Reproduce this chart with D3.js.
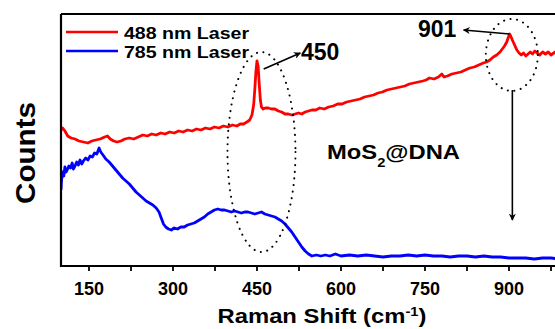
<!DOCTYPE html>
<html>
<head>
<meta charset="utf-8">
<script src="https://cdn.jsdelivr.net/npm/d3@7"></script>
<style>
  body { margin: 0; background: #fff; }
  svg { display: block; font-family: "Liberation Sans", Arial, sans-serif; font-weight: bold; }
</style>
</head>
<body>
<script>
// Raman spectra of MoS2@DNA (counts in arbitrary units)
var redShift = [100,103,107,112,118,125,132,140,148,155,162,170,178,183,188,194,200,207,214,222,230,238,246,254,262,270,278,286,294,302,310,318,326,334,342,350,358,366,374,382,390,398,406,414,420,426,432,437,441,444,446,448,450,452,454,456,458,461,465,470,476,482,488,494,500,506,512,518,524,530,536,542,548,555,562,570,578,586,594,602,610,618,626,634,642,650,658,666,674,682,690,698,706,714,722,730,738,746,752,758,766,774,780,784,790,798,806,814,822,830,838,846,854,860,866,872,878,884,888,892,896,899,901,903,906,910,914,918,922,926,930,934,938,942,946,950,955,960,965,970,975,980,985,990,1000];
var redCounts = [136,138,135,130,128,127,125,124,123,125,126,127,129,130,127,125,124,125,127,128,127,129,131,130,132,131,133,132,134,133,135,134,136,135,137,136,138,137,139,138,140,139,141,140,142,142,144,146,151,161,176,194,205,200,182,166,159,157,158,158,157,157,155,154,152,152,151,152,153,152,154,155,156,156,158,157,159,160,162,162,164,165,166,167,169,170,171,173,174,176,177,178,179,180,182,183,184,185,186,188,187,189,192,189,190,192,193,194,196,198,199,201,203,204,206,209,211,214,217,220,224,229,232,230,226,221,216,213,211,213,210,212,214,212,215,213,211,214,212,214,211,213,215,214,215];

var blueShift = [100,101,103,105,107,109,111,114,117,120,122,125,128,131,134,137,140,144,148,152,156,160,164,168,171,175,180,186,192,198,204,210,216,222,228,234,240,246,252,258,264,270,275,279,283,287,292,297,302,308,314,320,326,332,338,344,350,356,362,368,374,380,386,392,398,404,410,416,422,428,434,440,446,452,458,464,470,476,482,488,494,500,506,512,518,524,530,536,542,548,556,564,572,580,590,600,615,630,645,660,675,690,705,720,735,750,765,780,795,810,825,840,855,870,885,900,915,930,945,960,975,990,1000];
var blueCounts = [76,86,94,90,99,94,96,100,98,103,97,100,104,101,106,102,105,108,106,110,109,113,112,118,114,111,107,104,100,96,92,88,85,82,78,74,71,68,65,63,61,58,54,48,42,39,37,36,38,37,39,39,41,42,43,45,47,49,52,54,56,57,56,56,55,54,55,54,53,54,54,53,52,53,54,52,51,50,49,47,45,42,38,34,29,24,19,15,12,10,11,10,11,10,12,10,11,10,11,10,9,10,10,11,10,11,10,10,9,10,10,9,10,9,9,8,8,8,7,8,8,7,8];

var seriesNames = ["488 nm Laser", "785 nm Laser"];
var seriesColors = ["#ff0000", "#0000ff"];
var xTicks = [150,300,450,600,750,900];
var xMinorTicks = [225,375,525,675,825,975];

function ramanChart(){
  var width = 555, height = 329;
  var mLeft = 61, mTop = 14, mBottom = 266;

  var x = d3.scaleLinear().domain([100,1000]).range([mLeft, mLeft + 504]);
  var y = d3.scaleLinear().domain([0,252]).range([mBottom, mTop]);

  var svg = d3.select("body").append("svg")
      .attr("width", width)
      .attr("height", height);

  var defs = svg.append("defs");
  defs.append("clipPath").attr("id","plotclip")
    .append("rect").attr("x", mLeft).attr("y", mTop).attr("width", 504).attr("height", mBottom-mTop);

  defs.append("marker")
      .attr("id","head")
      .attr("viewBox","0 0 10 10")
      .attr("refX",9).attr("refY",5)
      .attr("markerWidth",10).attr("markerHeight",7)
      .attr("markerUnits","userSpaceOnUse")
      .attr("orient","auto")
    .append("path")
      .attr("d","M0,0 L10,5 L0,10 L3,5 Z")
      .attr("fill","#000");

  var line = d3.line()
    .x(function(d){ return x(d[0]); })
    .y(function(d){ return y(d[1]); });

  var series = [
    d3.zip(redShift, redCounts),
    d3.zip(blueShift, blueCounts)
  ];

  svg.append("g").attr("clip-path","url(#plotclip)")
    .selectAll(".spec")
      .data(series)
    .enter().append("path")
      .attr("class","spec")
      .attr("d", line)
      .style("fill","none")
      .style("stroke", function(d,i){ return seriesColors[i]; })
      .style("stroke-width", 2.8)
      .style("stroke-linejoin","round");

  // frame: top, left, bottom (right side is cut off)
  svg.append("path")
    .attr("d","M"+mLeft+","+mTop+"H"+width+"M"+mLeft+","+mTop+"V"+mBottom+"H"+width)
    .style("fill","none").style("stroke","#000").style("stroke-width",2.2);

  var xAxis = svg.append("g").attr("transform","translate(0,"+mBottom+")");
  xAxis.selectAll(".tick")
      .data(xTicks.concat(xMinorTicks))
    .enter().append("line")
      .attr("x1", function(d){ return x(d); })
      .attr("x2", function(d){ return x(d); })
      .attr("y1", 0).attr("y2", 5)
      .style("stroke","#000").style("stroke-width",1.8);
  xAxis.selectAll(".lbl")
      .data(xTicks)
    .enter().append("text")
      .attr("x", function(d){ return x(d); })
      .attr("y", 29)
      .attr("text-anchor","middle")
      .style("font-size","18px")
      .text(function(d){ return d; });

  // axis titles
  var xt = svg.append("text")
    .attr("x", 322).attr("y", 323)
    .attr("text-anchor","middle")
    .attr("textLength", 209).attr("lengthAdjust","spacingAndGlyphs")
    .style("font-size","21px");
  xt.append("tspan").text("Raman Shift (cm");
  xt.append("tspan").attr("baseline-shift","super").style("font-size","13px").text("-1");
  xt.append("tspan").text(")");

  svg.append("text")
    .attr("transform","translate(35,153) rotate(-90)")
    .attr("text-anchor","middle")
    .attr("textLength", 102).attr("lengthAdjust","spacingAndGlyphs")
    .style("font-size","28px")
    .text("Counts");

  // legend
  var leg = svg.append("g");
  seriesNames.forEach(function(name,i){
    var ly = 32 + i*19;
    leg.append("line")
      .attr("x1",66).attr("x2",118).attr("y1",ly).attr("y2",ly)
      .style("stroke",seriesColors[i]).style("stroke-width",2.6);
    leg.append("text")
      .attr("x",124).attr("y",ly+7)
      .attr("textLength",125).attr("lengthAdjust","spacingAndGlyphs")
      .style("font-size","17px")
      .text(name);
  });

  // annotations
  var dotted = function(sel){
    return sel.style("fill","none").style("stroke","#000")
      .style("stroke-width",2).style("stroke-linecap","round")
      .style("stroke-dasharray","0.1 6.5");
  };
  dotted(svg.append("ellipse")
    .attr("cx", x(458)).attr("cy", y(114)).attr("rx", 34).attr("ry", 100));
  dotted(svg.append("ellipse")
    .attr("cx", x(905)).attr("cy", y(211)).attr("rx", 26).attr("ry", 36));

  var arrow = function(x1,y1,x2,y2){
    svg.append("line")
      .attr("x1",x1).attr("y1",y1).attr("x2",x2).attr("y2",y2)
      .attr("marker-end","url(#head)")
      .style("stroke","#000").style("stroke-width",1.6);
  };
  arrow(x(462), y(197), x(472)+31, y(213));
  arrow(x(901), y(232), x(901)-46, y(236));
  arrow(x(906), y(176), x(906), y(46));

  svg.append("text")
    .attr("x", 301).attr("y", 60)
    .style("font-size","23px")
    .text("450");
  svg.append("text")
    .attr("x", 418).attr("y", 37)
    .style("font-size","23px")
    .text("901");

  var mos = svg.append("text")
    .attr("x", 327).attr("y", 159)
    .attr("textLength", 133).attr("lengthAdjust","spacingAndGlyphs")
    .style("font-size","21px");
  mos.append("tspan").text("MoS");
  mos.append("tspan").attr("baseline-shift","sub").style("font-size","13px").text("2");
  mos.append("tspan").text("@DNA");
}

ramanChart();
</script>
</body>
</html>
